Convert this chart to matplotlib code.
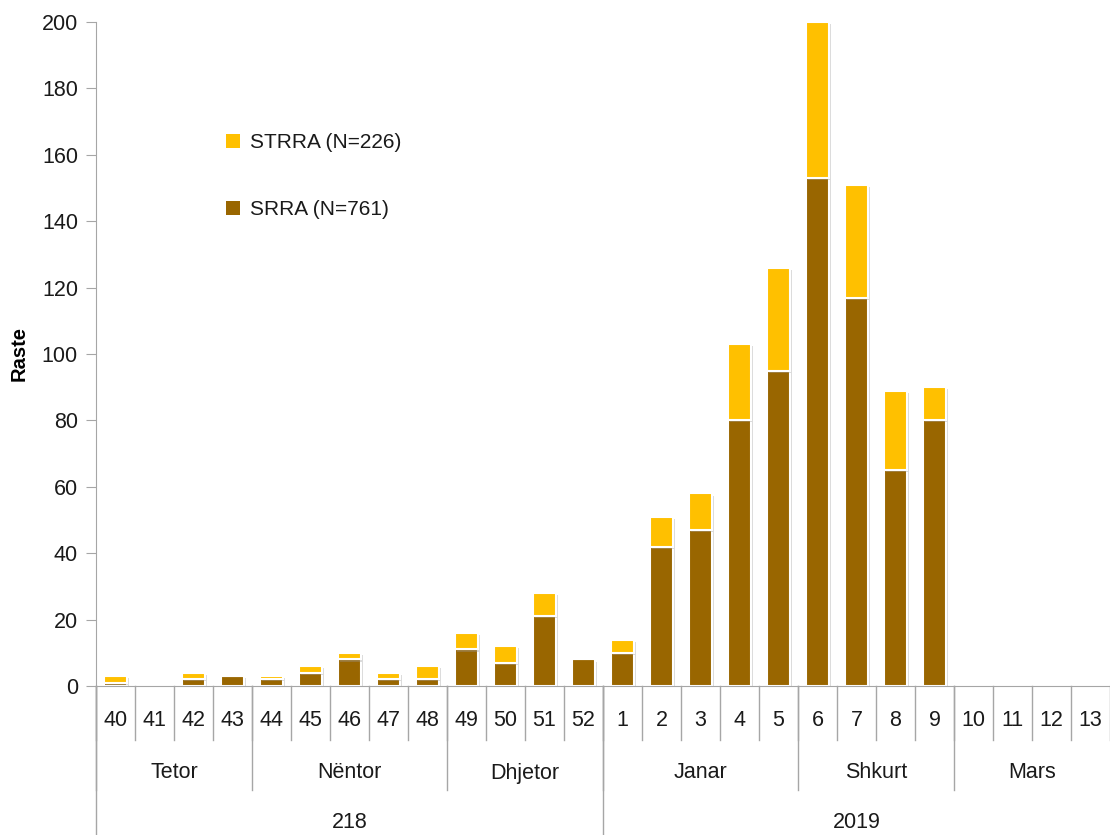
import matplotlib
matplotlib.use("Agg")
import matplotlib.pyplot as plt
import matplotlib.patheffects as pe
from matplotlib.transforms import blended_transform_factory
from matplotlib.patches import Patch

plt.rcParams['font.family'] = ['Liberation Sans', 'DejaVu Sans']

weeks = ["40", "41", "42", "43", "44", "45", "46", "47", "48", "49", "50", "51", "52",
         "1", "2", "3", "4", "5", "6", "7", "8", "9", "10", "11", "12", "13"]
srra = [1, 0, 2, 3, 2, 4, 8, 2, 2, 11, 7, 21, 8,
        10, 42, 47, 80, 95, 153, 117, 65, 80, 0, 0, 0, 0]
strra = [2, 0, 2, 0, 1, 2, 2, 2, 4, 5, 5, 7, 0,
         4, 9, 11, 23, 31, 47, 34, 24, 10, 0, 0, 0, 0]
months = ["Tetor", "Nëntor", "Dhjetor", "Janar", "Shkurt", "Mars"]
month_sizes = [4, 5, 4, 5, 4, 4]
years = ["218", "2019"]
year_sizes = [13, 13]
label_srra = "SRRA (N=761)"
label_strra = "STRRA (N=226)"
y_label = "Raste"

c_srra = "#996600"
c_strra = "#FFC000"
tc = '#1a1a1a'

fig = plt.figure(figsize=(11.1, 8.35), dpi=100)
ax = fig.add_axes([96/1110, 1 - 686/835, 1 - 96/1110, 664/835])

x = list(range(len(weeks)))
shadow = [pe.SimplePatchShadow(offset=(1.5, -1.5), shadow_rgbFace='#999999', alpha=0.35), pe.Normal()]
b1 = ax.bar(x, srra, width=0.58, color=c_srra, edgecolor='white', linewidth=1.5)
b2 = ax.bar(x, strra, bottom=srra, width=0.58, color=c_strra, edgecolor='white', linewidth=1.5)
for b in list(b1) + list(b2):
    if b.get_height() > 0:
        b.set_path_effects(shadow)

ax.set_xlim(-0.5, len(weeks) - 0.5)
ax.set_ylim(0, 200)
ax.set_yticks(range(0, 201, 20))
ax.tick_params(axis='y', labelsize=15.5, length=7, color='#a6a6a6', labelcolor=tc, pad=6)
ax.set_xticks([])
for s in ['top', 'right']:
    ax.spines[s].set_visible(False)
ax.spines['left'].set_color('#a6a6a6')
ax.spines['bottom'].set_color('#a6a6a6')
ax.set_ylabel(y_label, fontsize=14.5, fontweight='bold', color='black')
ax.yaxis.set_label_coords(-0.066, 0.5)

trans = blended_transform_factory(ax.transData, ax.transAxes)
axh = 664.0
def fy(px):
    return (686 - px) / axh

lc = '#a6a6a6'
fs = 15.5
# week labels and separators
for i, w in enumerate(weeks):
    ax.text(i, fy(720), w, transform=trans, ha='center', va='center', fontsize=fs, color=tc)
for i in range(len(weeks) + 1):
    ax.plot([i - 0.5, i - 0.5], [0, fy(740)], transform=trans, color=lc, lw=1, clip_on=False)
# months
pos = 0
for m, n in zip(months, month_sizes):
    ax.text(pos + n / 2 - 0.5, fy(773), m, transform=trans, ha='center', va='center', fontsize=fs, color=tc)
    ax.plot([pos - 0.5, pos - 0.5], [0, fy(790)], transform=trans, color=lc, lw=1, clip_on=False)
    pos += n
# years
pos = 0
for yname, n in zip(years, year_sizes):
    ax.text(pos + n / 2 - 0.5, fy(822), yname, transform=trans, ha='center', va='center', fontsize=fs, color=tc)
    ax.plot([pos - 0.5, pos - 0.5], [0, fy(840)], transform=trans, color=lc, lw=1, clip_on=False)
    pos += n

handles = [Patch(facecolor=c_strra, edgecolor='none'), Patch(facecolor=c_srra, edgecolor='none')]
leg = ax.legend(handles, [label_strra, label_srra], loc='upper left',
                bbox_to_anchor=(0.11, 0.861), frameon=False, fontsize=15,
                handlelength=0.65, handleheight=0.65, handletextpad=0.5, labelspacing=2.3)
for t in leg.get_texts():
    t.set_color(tc)

fig.savefig("out.png", dpi=100)
